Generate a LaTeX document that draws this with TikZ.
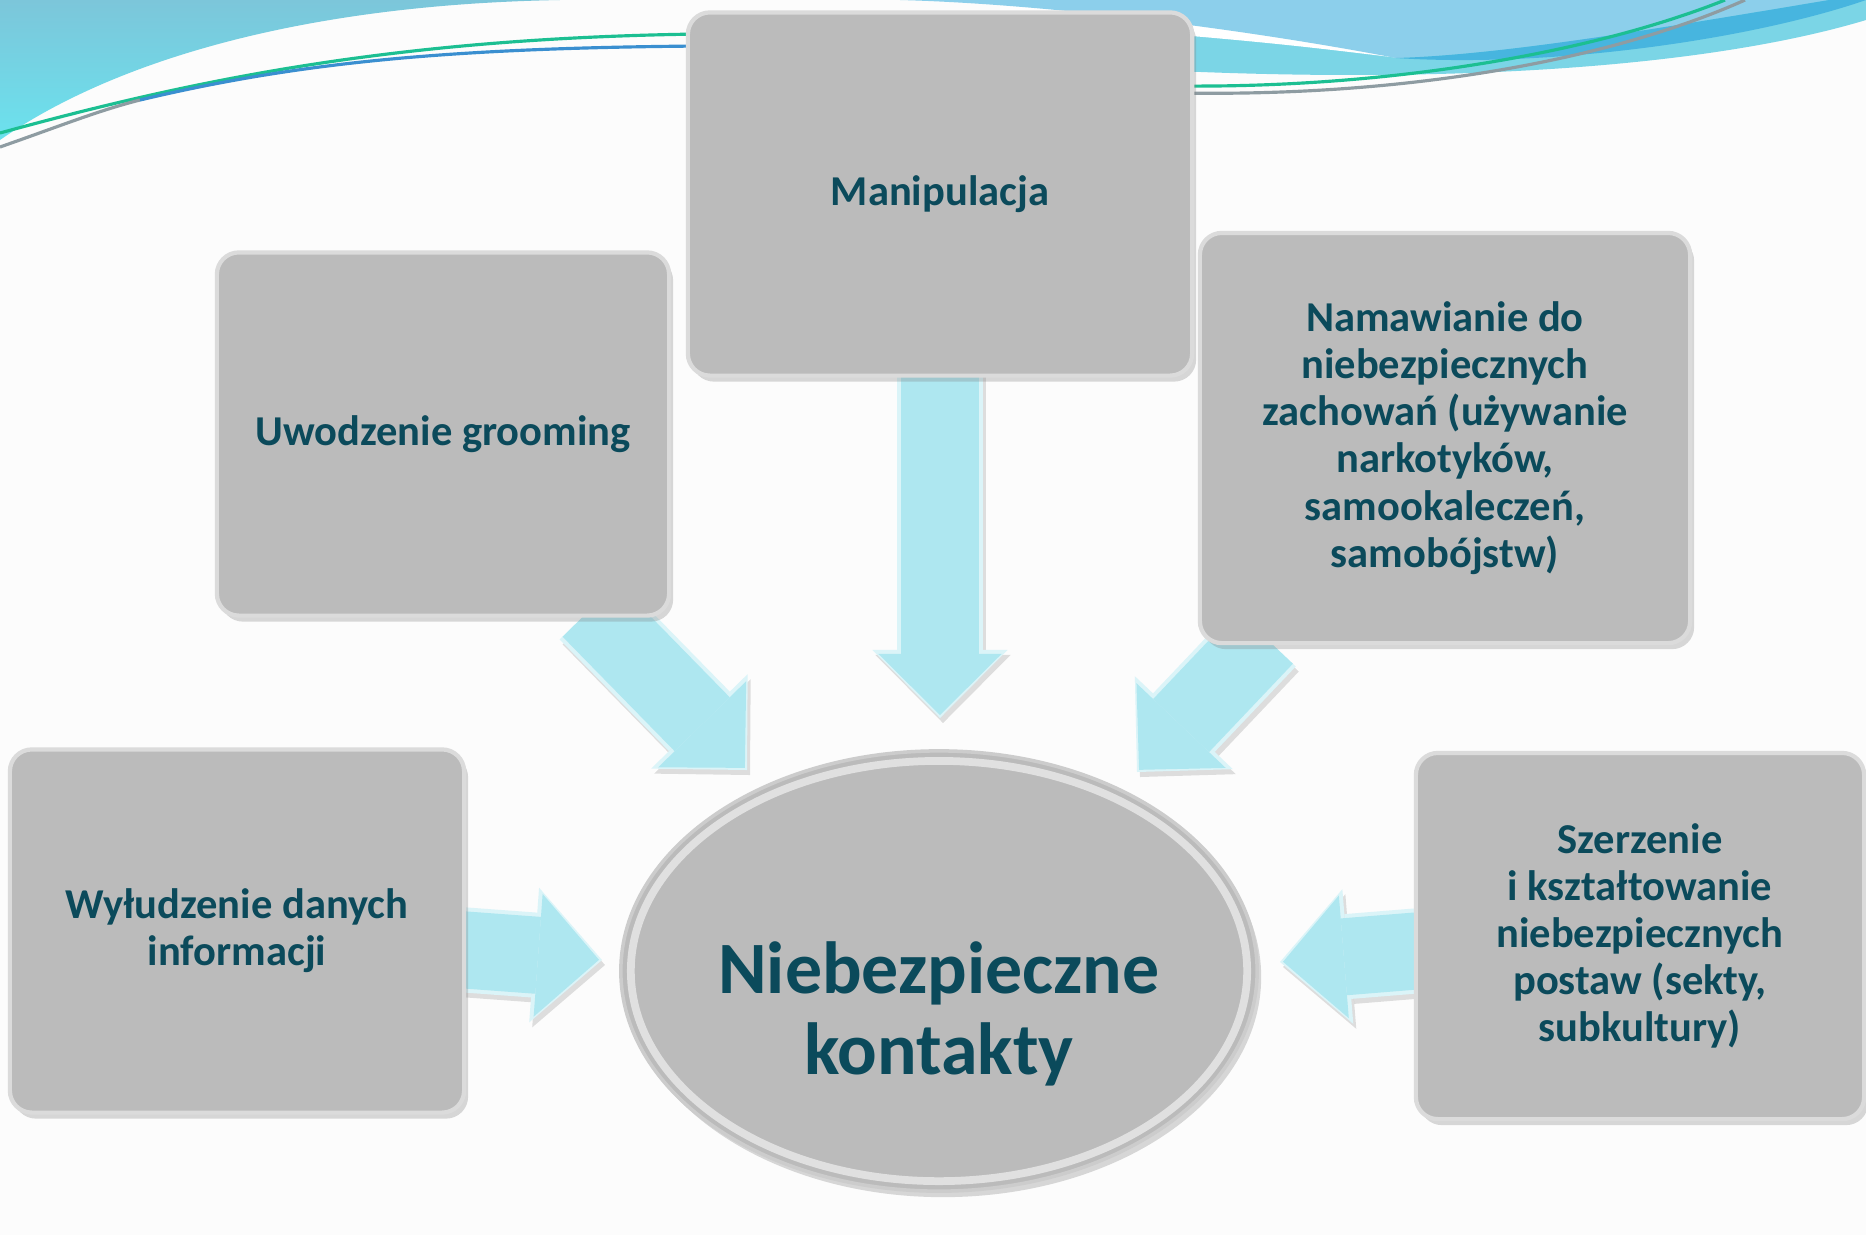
\documentclass[tikz,border=0pt]{standalone}
\usepackage{fontspec}
\setmainfont{Carlito}
\usetikzlibrary{arrows.meta,shapes.geometric,shadows,calc}
\definecolor{txt}{HTML}{0B4A5B}
\definecolor{boxgray}{HTML}{BBBBBB}
\definecolor{arrfill}{HTML}{AEE7F0}
\definecolor{skyA}{HTML}{7CC6DA}
\definecolor{skyB}{HTML}{6BE2EE}
\definecolor{bandcyan}{HTML}{7BD5E6}
\definecolor{bandsky}{HTML}{8CCFEB}
\definecolor{banddark}{HTML}{47B5DF}
\definecolor{lgreen}{HTML}{1CBF92}
\definecolor{lgray}{HTML}{8E9CA2}
\definecolor{lblue}{HTML}{3A8FD0}
\pgfdeclarelayer{bg}
\pgfdeclarelayer{arr}
\pgfsetlayers{bg,arr,main}
\begin{document}
\begin{tikzpicture}[x=0.01cm,y=-0.01cm,
  box/.style={rectangle, rounded corners=0.22cm, fill=boxgray,
    draw=white!72!gray, line width=1.2pt,
    drop shadow={shadow xshift=0.04cm, shadow yshift=-0.06cm, opacity=0.3, fill=gray},
    align=center, text=txt, font=\fontsize{12.1}{13.4}\selectfont\bfseries, inner sep=0pt},
  barrim/.style={draw=white!55!arrfill, line width=0.85cm, line cap=butt,
    -{Triangle[width=1.35cm,length=0.68cm,line width=0pt]}},
  barrow/.style={draw=arrfill, line width=0.77cm, line cap=butt, shorten >=0.03cm,
    -{Triangle[width=1.23cm,length=0.61cm,line width=0pt]}},
  bshadow/.style={draw=black, opacity=0.12, line width=0.85cm, line cap=butt,
    -{Triangle[width=1.35cm,length=0.68cm,line width=0pt]}}
]
\useasboundingbox (0,0) rectangle (1866,1235);

% ---------- background ----------
\begin{pgfonlayer}{bg}
\fill[white!98!gray] (0,0) rectangle (1866,1235);
% top-left swoosh
\shade[top color=skyA, bottom color=skyB]
  (0,0) -- (0,140) .. controls (100,70) and (280,5) .. (560,0) -- cycle;
\draw[lgreen, line width=0.9pt] (0,133) .. controls (200,78) and (400,38) .. (700,34);
\draw[lgray, line width=0.9pt] (0,147) .. controls (60,126) and (100,110) .. (140,100);
\draw[lblue, line width=0.9pt] (140,100) .. controls (300,62) and (450,48) .. (700,46);
% top-right swoosh
\fill[bandcyan] (1000,0) -- (1000,60) .. controls (1400,92) and (1700,70) .. (1866,20) -- (1866,0) -- cycle;
\fill[white] (1000,0) -- (1000,22) .. controls (1250,38) and (1330,50) .. (1400,58) -- (1400,0) -- cycle;
\fill[bandsky] (900,0) .. controls (1050,4) and (1250,30) .. (1396,58)
  .. controls (1500,55) and (1650,30) .. (1829,0) -- cycle;
\fill[banddark] (1396,58) .. controls (1500,55) and (1650,30) .. (1829,0) -- (1866,0)
  .. controls (1750,40) and (1550,68) .. (1396,58) -- cycle;
\draw[lgreen, line width=0.9pt] (1180,86) .. controls (1400,88) and (1600,50) .. (1725,0);
\draw[lgray, line width=0.9pt] (1180,93) .. controls (1420,97) and (1620,56) .. (1745,0);
\end{pgfonlayer}

% ---------- nodes ----------
\node[box, minimum width=5.04cm, minimum height=3.63cm] (man) at (940,194) {Manipulacja};
\node[box, minimum width=4.52cm, minimum height=3.63cm] (uw) at (443,434) {Uwodzenie grooming};
\node[box, minimum width=4.90cm, minimum height=4.10cm] (nam) at (1445,438)
  {Namawianie do\\niebezpiecznych\\zachowań (używanie\\narkotyków,\\samookaleczeń,\\samobójstw)};
\node[box, minimum width=4.54cm, minimum height=3.63cm] (wy) at (237,931)
  {Wyłudzenie danych\\informacji};
\node[box, minimum width=4.48cm, minimum height=3.66cm] (sz) at (1640,936)
  {Szerzenie\\i kształtowanie\\niebezpiecznych\\postaw (sekty,\\subkultury)};

\node[ellipse, minimum width=6.36cm, minimum height=4.40cm, inner sep=0pt,
  fill=boxgray, draw=white!60!gray, line width=1pt,
  drop shadow={shadow xshift=0.04cm, shadow yshift=-0.06cm, opacity=0.3, fill=gray}]
  (ell) at (939,971) {};
\draw[white, opacity=0.55, line width=2.2pt] (ell.center) ellipse [x radius=3.08cm, y radius=2.10cm];
\node[text=txt, font=\fontsize{21}{23}\selectfont\bfseries, align=center, inner sep=0pt]
  (elltext) at ([yshift=-0.43cm]ell.center) {Niebezpieczne\\kontakty};

% ---------- arrows ----------
\coordinate (tman) at (940,718);
\coordinate (tuw) at (747,770);
\coordinate (tnam) at (1137,772);
\coordinate (twy) at (602,960);
\coordinate (tsz) at (1280,962);
\begin{pgfonlayer}{arr}
\begin{scope}[transform canvas={shift={(0.03cm,-0.05cm)}}]
\draw[bshadow] ([yshift=0.3cm]man.south) -- (tman);
\draw[bshadow] ([xshift=1.47cm,yshift=0.08cm]uw.south) -- (tuw);
\draw[bshadow] ([xshift=-1.8cm,yshift=0.08cm]nam.south) -- (tnam);
\draw[bshadow] ([xshift=-0.14cm,yshift=-0.18cm]wy.east) -- (twy);
\draw[bshadow] ([xshift=0.14cm,yshift=-0.14cm]sz.west) -- (tsz);
\end{scope}
\draw[barrim] ([yshift=0.3cm]man.south) -- (tman);
\draw[barrim] ([xshift=1.47cm,yshift=0.08cm]uw.south) -- (tuw);
\draw[barrim] ([xshift=-1.8cm,yshift=0.08cm]nam.south) -- (tnam);
\draw[barrim] ([xshift=-0.14cm,yshift=-0.18cm]wy.east) -- (twy);
\draw[barrim] ([xshift=0.14cm,yshift=-0.14cm]sz.west) -- (tsz);
\draw[barrow] ([yshift=0.3cm]man.south) -- (tman);
\draw[barrow] ([xshift=1.47cm,yshift=0.08cm]uw.south) -- (tuw);
\draw[barrow] ([xshift=-1.8cm,yshift=0.08cm]nam.south) -- (tnam);
\draw[barrow] ([xshift=-0.14cm,yshift=-0.18cm]wy.east) -- (twy);
\draw[barrow] ([xshift=0.14cm,yshift=-0.14cm]sz.west) -- (tsz);
\end{pgfonlayer}
\end{tikzpicture}
\end{document}
